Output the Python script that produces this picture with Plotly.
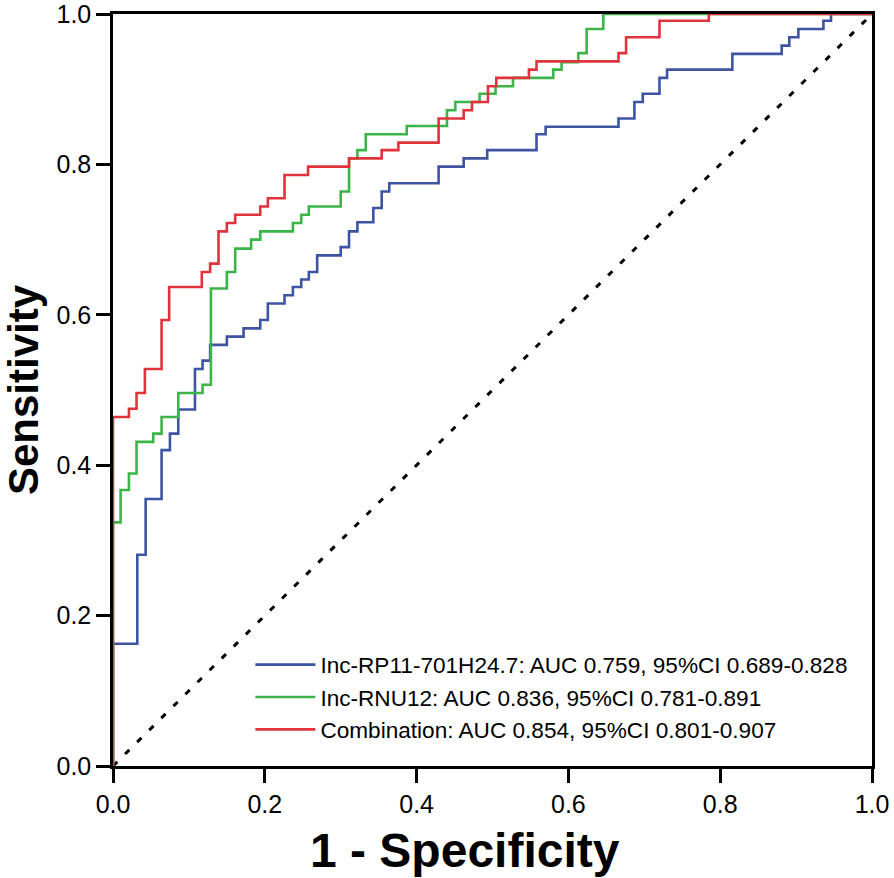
import plotly.graph_objects as go

# ROC points (1 - specificity, sensitivity)
blue_name = "Inc-RP11-701H24.7: AUC 0.759, 95%CI 0.689-0.828"
blue_fpr = [0, 0, 0.032, 0.043, 0.064, 0.075, 0.086, 0.108, 0.118, 0.128, 0.150, 0.172, 0.194, 0.204,
            0.226, 0.237, 0.248, 0.258, 0.269, 0.300, 0.311, 0.322, 0.343, 0.354, 0.364, 0.429, 0.462,
            0.493, 0.558, 0.570, 0.666, 0.687, 0.698, 0.720, 0.730, 0.816, 0.881, 0.891, 0.903, 0.936,
            0.946, 1.0]
blue_tpr = [0, 0.1625, 0.281, 0.355, 0.420, 0.442, 0.474, 0.528, 0.539, 0.560, 0.571, 0.582, 0.593, 0.615,
            0.626, 0.637, 0.647, 0.657, 0.679, 0.690, 0.711, 0.723, 0.742, 0.764, 0.775, 0.797, 0.808,
            0.819, 0.840, 0.850, 0.861, 0.883, 0.894, 0.915, 0.926, 0.947, 0.958, 0.969, 0.980, 0.991,
            1.0, 1.0]

green_name = "Inc-RNU12: AUC 0.836, 95%CI 0.781-0.891"
green_fpr = [0, 0, 0.010, 0.021, 0.031, 0.053, 0.064, 0.086, 0.118, 0.129, 0.150, 0.161, 0.182, 0.194,
             0.237, 0.248, 0.258, 0.300, 0.311, 0.322, 0.333, 0.387, 0.440, 0.451, 0.483, 0.504, 0.527,
             0.580, 0.591, 0.613, 0.624, 0.646, 1.0]
green_tpr = [0, 0.324, 0.367, 0.389, 0.431, 0.442, 0.464, 0.496, 0.507, 0.635, 0.657, 0.688, 0.700, 0.711,
             0.722, 0.733, 0.744, 0.764, 0.808, 0.819, 0.840, 0.851, 0.872, 0.883, 0.894, 0.904, 0.915,
             0.926, 0.936, 0.948, 0.980, 1.0, 1.0]

red_name = "Combination: AUC 0.854, 95%CI 0.801-0.907"
red_fpr = [0, 0, 0.021, 0.031, 0.042, 0.064, 0.074, 0.117, 0.128, 0.139, 0.150, 0.161, 0.194, 0.204,
           0.226, 0.257, 0.311, 0.354, 0.376, 0.429, 0.462, 0.473, 0.494, 0.505, 0.548, 0.558, 0.666,
           0.676, 0.720, 0.785, 1.0]
red_tpr = [0, 0.464, 0.475, 0.496, 0.528, 0.593, 0.637, 0.657, 0.668, 0.711, 0.722, 0.733, 0.744, 0.755,
           0.786, 0.797, 0.808, 0.819, 0.829, 0.861, 0.872, 0.883, 0.904, 0.915, 0.926, 0.937, 0.948,
           0.969, 0.991, 1.0, 1.0]

ref_x = [0, 1]
ref_y = [0, 1]
tick_vals = [0, 0.2, 0.4, 0.6, 0.8, 1.0]
tick_text = ["0.0", "0.2", "0.4", "0.6", "0.8", "1.0"]
x_title = "1 - Specificity"
y_title = "Sensitivity"

FONT = "Liberation Sans, Arial"

fig = go.Figure()
fig.add_trace(go.Scatter(x=ref_x, y=ref_y, mode="lines", showlegend=False,
                         line=dict(color="black", width=3, dash="6px,11px")))
for xs, ys, name, col in [(blue_fpr, blue_tpr, blue_name, "#3E54A3"),
                          (green_fpr, green_tpr, green_name, "#3BB54A"),
                          (red_fpr, red_tpr, red_name, "#E1333C")]:
    fig.add_trace(go.Scatter(x=xs, y=ys, mode="lines", name=name,
                             line=dict(color=col, width=2.6, shape="hv")))

axis_common = dict(range=[0, 1], tickvals=tick_vals, ticktext=tick_text, showgrid=False, zeroline=False,
                   showline=True, linecolor="black", linewidth=2.5, mirror=True,
                   ticks="outside", ticklen=14, tickwidth=2.5, tickcolor="black",
                   ticklabeloverflow="allow",
                   tickfont=dict(family=FONT, size=25, color="black"))

fig.update_layout(
    width=894, height=878,
    margin=dict(l=113, r=22, t=14, b=112, autoexpand=False),
    paper_bgcolor="white", plot_bgcolor="white",
    font=dict(family=FONT, color="black"),
    xaxis=dict(axis_common),
    yaxis=dict(axis_common, title=dict(text="<b>" + y_title + "</b>", standoff=12,
                                       font=dict(family=FONT, size=42, color="black"))),
    legend=dict(x=0.181, y=0.163, xanchor="left", yanchor="top", bgcolor="rgba(0,0,0,0)",
                font=dict(family=FONT, size=22.6, color="black"),
                itemwidth=60, tracegroupgap=0),
    annotations=[dict(text="<b>" + x_title + "</b>", xref="paper", yref="paper",
                      x=0.464, y=-0.112, xanchor="center", yanchor="middle", showarrow=False,
                      font=dict(family=FONT, size=48, color="black"))],
)
fig.write_html("out.html", config={"displayModeBar": False},
               post_script="document.body.style.margin='0px';")
